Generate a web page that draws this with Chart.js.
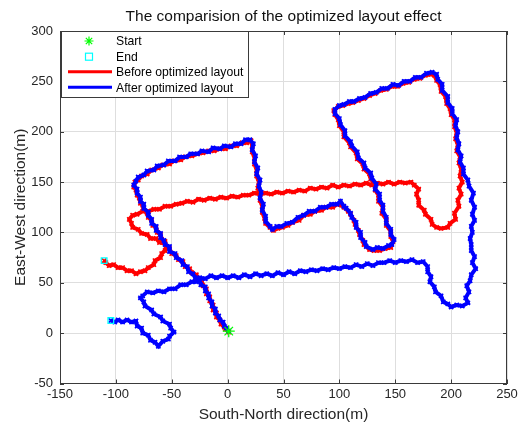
<!DOCTYPE html>
<html>
<head>
<meta charset="utf-8">
<script src="https://cdn.jsdelivr.net/npm/chart.js@4.4.1/dist/chart.umd.min.js"></script>
<style>
html,body{margin:0;padding:0;background:#fff;}
canvas{display:block;}
</style>
</head>
<body>
<canvas id="c" width="519" height="422"></canvas>
<script>
// ---- data ----
const chartTitle = "The comparision of the optimized layout effect";
const xAxisTitle = "South-North direction(m)";
const yAxisTitle = "East-West direction(m)";
const xTicks = [-150, -100, -50, 0, 50, 100, 150, 200, 250];
const yTicks = [-50, 0, 50, 100, 150, 200, 250, 300];
const legendNames = ["Start", "End", "Before optimized layout", "After optimized layout"];

const startPoint = [[1, 2]];
const endPoints = [[-110.5, 72], [-104.5, 12.5]];

const beforePath = [
[1,1],[-2,4],[-3,6],[-6,9],[-7,13],[-10,16],[-10,20],[-13,23],[-13,28],[-16,32],[-16,36],[-19,39],[-19,44],[-22,47],[-23,51],[-26,54],[-28,58],[-32,60],[-34,64],[-38,66],[-40,71],[-44,73],[-46,77],[-50,79],[-52,84],[-55,86],[-56,91],[-59,93],[-60,98],[-63,100],[-64,105],[-67,107],[-68,112],[-71,115],[-72,119],[-75,122],[-76,127],[-78,129],[-79,134],[-81,137],[-82,142],[-84,145],[-83,150],[-80,152],[-77,156],[-72,158],[-68,162],[-62,164],[-58,167],[-52,168],[-48,171],[-42,172],[-38,175],[-32,176],[-27,178],[-22,179],[-17,181],[-12,181],[-7,183],[-2,183],[3,186],[8,186],[13,189],[17,189],[21,191],[22,186],[22,180],[24,174],[24,168],[26,162],[26,156],[28,150],[27,144],[29,138],[29,132],[31,126],[31,120],[33,114],[34,109],[38,105],[41,102],[45,104],[49,105],[54,107],[58,110],[64,112],[68,117],[74,118],[78,121],[84,122],[88,125],[94,125],[98,128],[102,127],[104,125],[108,121],[110,118],[113,112],[114,108],[117,102],[118,98],[121,92],[122,88],[127,83],[131,82],[136,82],[141,84],[146,85],[148,91],[146,96],[146,101],[142,107],[142,113],[138,119],[139,125],[135,131],[135,137],[132,142],[132,148],[128,153],[127,158],[122,163],[121,168],[116,173],[115,179],[110,185],[109,189],[104,195],[104,200],[100,206],[99,212],[96,217],[95,221],[99,225],[103,226],[108,228],[112,229],[117,231],[122,233],[127,236],[132,238],[137,241],[142,242],[147,245],[152,245],[157,248],[162,249],[167,252],[172,253],[177,256],[182,257],[185,256],[187,251],[190,247],[191,240],[195,235],[196,228],[199,223],[200,217],[203,212],[203,205],[205,199],[204,193],[206,187],[205,181],[208,175],[207,169],[209,163],[208,156],[210,150],[207,144],[209,138],[206,132],[207,126],[203,119],[204,113],[199,109],[197,105],[191,104],[187,105],[183,108],[182,113],[177,118],[176,122],[171,127],[171,132],[169,138],[171,143],[167,147],[164,150],[159,149],[154,150],[149,148],[144,150],[139,148],[134,149],[129,147],[124,149],[119,147],[114,148],[109,146],[104,147],[99,145],[94,147],[89,144],[84,145],[79,143],[74,144],[69,141],[64,142],[59,140],[54,141],[49,139],[44,140],[39,138],[34,139],[29,138],[24,139],[19,137],[14,137],[9,135],[4,136],[-1,134],[-6,135],[-11,133],[-16,134],[-21,132],[-26,133],[-31,130],[-36,131],[-41,129],[-46,128],[-51,126],[-56,126],[-61,123],[-66,123],[-71,121],[-76,121],[-81,118],[-85,117],[-88,113],[-86,109],[-85,105],[-80,103],[-77,99],[-72,98],[-69,94],[-64,94],[-61,90],[-56,89],[-55,85],[-56,82],[-59,79],[-60,75],[-65,72],[-66,68],[-71,65],[-74,62],[-78,61],[-82,59],[-86,62],[-90,62],[-94,65],[-98,65],[-102,68],[-106,67],[-109,70],[-110.5,72]
];

const afterPath = [
[1,2],[-1,5],[-3,7],[-4,11],[-7,13],[-8,17],[-11,20],[-11,24],[-14,27],[-14,31],[-17,35],[-17,39],[-20,42],[-20,46],[-24,48],[-25,52],[-29,55],[-31,59],[-35,61],[-36,66],[-40,68],[-41,72],[-46,75],[-47,79],[-52,81],[-52,86],[-56,88],[-57,92],[-60,95],[-60,99],[-64,102],[-64,106],[-68,109],[-68,113],[-71,117],[-71,120],[-75,124],[-75,128],[-78,131],[-78,135],[-81,139],[-81,143],[-84,147],[-82,151],[-80,155],[-75,157],[-72,161],[-66,162],[-63,166],[-57,167],[-53,171],[-47,171],[-43,175],[-37,175],[-33,178],[-27,178],[-23,181],[-17,180],[-13,184],[-7,183],[-3,186],[3,185],[7,188],[12,188],[16,192],[20,192],[23,188],[22,182],[25,176],[24,170],[27,164],[26,158],[29,152],[28,146],[30,140],[29,134],[32,128],[31,122],[34,116],[34,111],[38,106],[40,103],[44,106],[48,106],[53,109],[58,110],[63,115],[68,117],[73,121],[78,121],[83,125],[88,125],[93,128],[98,128],[101,131],[104,126],[106,124],[110,119],[111,115],[115,110],[115,105],[119,100],[119,95],[123,90],[124,86],[130,83],[134,85],[139,84],[144,87],[147,88],[149,93],[146,98],[146,103],[142,109],[142,115],[139,121],[139,127],[136,132],[136,138],[132,143],[133,148],[129,154],[128,159],[123,164],[122,169],[117,174],[116,180],[111,186],[110,190],[105,196],[105,201],[101,207],[100,213],[96,218],[96,222],[100,226],[104,227],[109,230],[113,230],[118,233],[123,234],[128,238],[133,239],[138,243],[143,243],[148,247],[153,246],[158,250],[163,250],[168,254],[173,254],[178,258],[183,259],[187,257],[188,252],[192,247],[192,241],[197,235],[197,229],[201,223],[201,218],[205,212],[204,206],[206,200],[205,194],[207,188],[206,182],[209,176],[208,170],[211,164],[211,158],[215,152],[216,146],[220,139],[218,132],[221,125],[219,118],[221,112],[218,106],[219,100],[217,94],[218,88],[218,82],[221,76],[219,70],[222,64],[218,58],[217,52],[214,47],[216,41],[213,35],[215,30],[210,27],[205,28],[200,26],[197,29],[193,31],[191,37],[186,41],[185,46],[181,51],[182,56],[179,61],[179,66],[175,71],[170,70],[165,73],[160,71],[155,72],[150,70],[145,72],[140,70],[135,70],[130,67],[125,69],[120,66],[115,68],[110,65],[105,66],[100,64],[95,65],[90,63],[85,64],[80,62],[75,63],[70,61],[65,62],[60,59],[55,61],[50,58],[45,60],[40,57],[35,59],[30,57],[25,59],[20,56],[15,58],[10,55],[5,57],[0,55],[-5,57],[-10,55],[-15,57],[-20,54],[-25,55],[-28,51],[-32,51],[-37,48],[-42,48],[-47,44],[-52,44],[-57,41],[-62,42],[-67,40],[-72,41],[-76,37],[-78,35],[-75,31],[-74,27],[-68,23],[-66,19],[-60,16],[-58,12],[-52,9],[-51,5],[-48,1],[-52,-3],[-53,-6],[-58,-8],[-62,-13],[-65,-9],[-69,-7],[-71,-2],[-76,0],[-77,5],[-81,7],[-82,12],[-86,11],[-90,13],[-94,11],[-98,13],[-101,11],[-104.5,12.5]
];

// ---- colours ----
const RED = '#ff0000', BLUE = '#0000ff', GREEN = '#00ff00', CYAN = '#00ffff';
const AXIS = '#3a3a3a', GRID = '#dedede', TEXT = '#262626';
const FONT = '"Liberation Sans", Arial, Helvetica, sans-serif';

const toXY = arr => arr.map(p => ({x: p[0], y: p[1]}));

// box + inner ticks (MATLAB style) and title
const boxPlugin = {
  id: 'boxPlugin',
  afterDatasetsDraw(chart) {
    const {ctx, chartArea: a, scales} = chart;
    ctx.save();
    ctx.strokeStyle = AXIS;
    ctx.lineWidth = 1;
    ctx.strokeRect(Math.round(a.left) + 0.5, Math.round(a.top) + 0.5,
                   Math.round(a.right - a.left) - 1, Math.round(a.bottom - a.top) - 1);
    const tl = 4;
    ctx.beginPath();
    xTicks.forEach(v => {
      const x = Math.round(scales.x.getPixelForValue(v)) + 0.5;
      ctx.moveTo(x, a.bottom); ctx.lineTo(x, a.bottom - tl);
      ctx.moveTo(x, a.top); ctx.lineTo(x, a.top + tl);
    });
    yTicks.forEach(v => {
      const y = Math.round(scales.y.getPixelForValue(v)) + 0.5;
      ctx.moveTo(a.left, y); ctx.lineTo(a.left + tl, y);
      ctx.moveTo(a.right, y); ctx.lineTo(a.right - tl, y);
    });
    ctx.stroke();
    // title
    ctx.fillStyle = '#111';
    ctx.font = '15.5px ' + FONT;
    ctx.textAlign = 'center';
    ctx.textBaseline = 'middle';
    ctx.fillText(chartTitle, (a.left + a.right) / 2, 17);
    ctx.restore();
  }
};

// legend inside the axes, top-left
const legendPlugin = {
  id: 'matLegend',
  afterDraw(chart) {
    const {ctx, chartArea: a} = chart;
    const x0 = a.left + 1, y0 = a.top, w = 188, h = 67;
    ctx.save();
    ctx.fillStyle = '#fff';
    ctx.fillRect(x0, y0, w, h);
    ctx.strokeStyle = AXIS;
    ctx.lineWidth = 1;
    ctx.strokeRect(x0 + 0.5, y0 + 0.5, w - 1, h - 1);
    const rows = [y0 + 10, y0 + 25.7, y0 + 40.7, y0 + 56.3];
    const mx = x0 + 28, lx1 = x0 + 7, lx2 = x0 + 51, tx = x0 + 55;
    // star
    ctx.strokeStyle = GREEN; ctx.lineWidth = 1.2;
    ctx.beginPath();
    const r = 4.5;
    for (let k = 0; k < 4; k++) {
      const ang = k * Math.PI / 4;
      ctx.moveTo(mx - r * Math.cos(ang), rows[0] - r * Math.sin(ang));
      ctx.lineTo(mx + r * Math.cos(ang), rows[0] + r * Math.sin(ang));
    }
    ctx.stroke();
    // square
    ctx.strokeStyle = CYAN; ctx.lineWidth = 1.2;
    ctx.strokeRect(mx - 3.5, rows[1] - 3.5, 7, 7);
    // lines
    ctx.lineWidth = 3;
    ctx.strokeStyle = RED;
    ctx.beginPath(); ctx.moveTo(lx1, rows[2]); ctx.lineTo(lx2, rows[2]); ctx.stroke();
    ctx.strokeStyle = BLUE;
    ctx.beginPath(); ctx.moveTo(lx1, rows[3]); ctx.lineTo(lx2, rows[3]); ctx.stroke();
    // labels
    ctx.fillStyle = '#000';
    ctx.font = '12.2px ' + FONT;
    ctx.textAlign = 'left';
    ctx.textBaseline = 'middle';
    legendNames.forEach((t, i) => ctx.fillText(t, tx, rows[i] + 1));
    ctx.restore();
  }
};

new Chart(document.getElementById('c'), {
  type: 'scatter',
  data: {
    datasets: [
      { label: legendNames[0], data: toXY(startPoint), pointStyle: 'star', radius: 6,
        borderColor: GREEN, backgroundColor: GREEN, borderWidth: 1.3, showLine: false },
      { label: legendNames[1], data: toXY(endPoints), pointStyle: 'rect', radius: 4,
        borderColor: CYAN, backgroundColor: 'rgba(0,0,0,0)', borderWidth: 1.3, showLine: false },
      { label: legendNames[3], data: toXY(afterPath), showLine: true, borderColor: BLUE,
        backgroundColor: BLUE, borderWidth: 4, pointStyle: 'crossRot', pointRadius: 3,
        pointBorderColor: BLUE, pointBorderWidth: 1.6, tension: 0 },
      { label: legendNames[2], data: toXY(beforePath), showLine: true, borderColor: RED,
        backgroundColor: RED, borderWidth: 4, pointStyle: 'crossRot', pointRadius: 3,
        pointBorderColor: RED, pointBorderWidth: 1.6, tension: 0 }
    ]
  },
  options: {
    responsive: false,
    animation: false,
    devicePixelRatio: 1,
    layout: { padding: { top: 31, right: 12, left: 0, bottom: 0 } },
    plugins: { legend: { display: false }, title: { display: false }, tooltip: { enabled: false } },
    scales: {
      x: {
        type: 'linear', min: -150, max: 250,
        afterBuildTicks: s => { s.ticks = xTicks.map(v => ({value: v})); },
        afterFit: s => { s.height = 422 - 383.5; s.paddingLeft = 0; s.paddingRight = 0; },
        grid: { color: GRID, drawTicks: false, lineWidth: 1 },
        border: { display: true, color: AXIS },
        ticks: { color: TEXT, font: { family: FONT, size: 13 }, padding: 3, maxRotation: 0 },
        title: { display: true, text: xAxisTitle, color: TEXT, font: { family: FONT, size: 15.5, lineHeight: 0.9 },
                 padding: { top: 1, bottom: 0 } }
      },
      y: {
        type: 'linear', min: -50, max: 300,
        afterBuildTicks: s => { s.ticks = yTicks.map(v => ({value: v})); },
        afterFit: s => { s.width = 60; s.paddingTop = 0; s.paddingBottom = 0; },
        grid: { color: GRID, drawTicks: false, lineWidth: 1 },
        border: { display: true, color: AXIS },
        ticks: { color: TEXT, font: { family: FONT, size: 13 }, padding: 7 },
        title: { display: true, text: yAxisTitle, color: TEXT, font: { family: FONT, size: 15.5 },
                 padding: { top: 11, bottom: 0 } }
      }
    }
  },
  plugins: [boxPlugin, legendPlugin]
});
</script>
</body>
</html>
